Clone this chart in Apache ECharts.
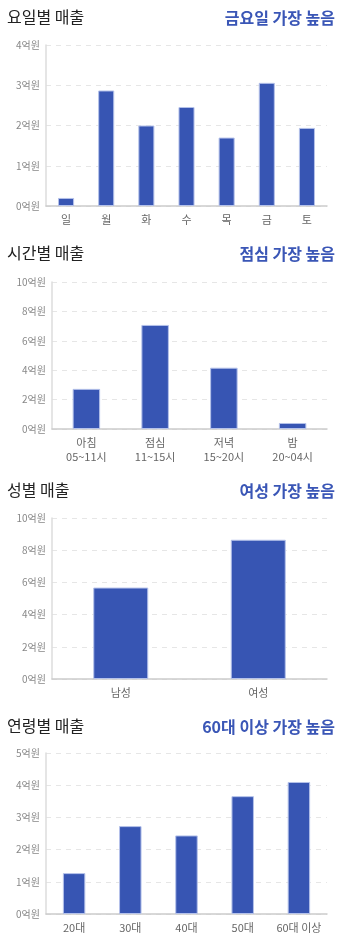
<!DOCTYPE html>
<html>
<head>
<meta charset="utf-8">
<script src="https://cdn.jsdelivr.net/npm/echarts@6/dist/echarts.min.js"></script>
<style>
  html, body { margin: 0; padding: 0; background: #fff; }
  #chart { width: 351px; height: 937px; }
</style>
</head>
<body>
<div id="chart"></div>
<script>
// 요일별
const dayLabels = ['일', '월', '화', '수', '목', '금', '토']
const dayValues = [0.2, 2.87, 2.0, 2.46, 1.7, 3.06, 1.94]
// 시간별
const timeLabels = ['아침\n05~11시', '점심\n11~15시', '저녁\n15~20시', '밤\n20~04시']
const timeValues = [2.73, 7.08, 4.17, 0.41]
// 성별
const genderLabels = ['남성', '여성']
const genderValues = [5.68, 8.65]
// 연령별
const ageLabels = ['20대', '30대', '40대', '50대', '60대 이상']
const ageValues = [1.27, 2.73, 2.44, 3.66, 4.1]

const titles = ['요일별 매출', '시간별 매출', '성별 매출', '연령별 매출']
const highlights = ['금요일 가장 높음', '점심 가장 높음', '여성 가장 높음', '60대 이상 가장 높음']

const FONT = '"Noto Sans CJK KR", "Noto Sans", sans-serif'
const BLUE = '#3755b3'

// 각 패널 배치
const panels = [
  { cats: dayLabels, vals: dayValues, max: 4, step: 1, left: 46, top: 45, height: 161, titleTop: 4 },
  { cats: timeLabels, vals: timeValues, max: 10, step: 2, left: 52, top: 282, height: 147, titleTop: 240 },
  { cats: genderLabels, vals: genderValues, max: 10, step: 2, left: 52, top: 518, height: 161, titleTop: 477 },
  { cats: ageLabels, vals: ageValues, max: 5, step: 1, left: 46, top: 753, height: 161, titleTop: 713 },
]

const option = {
  animation: false,
  textStyle: { fontFamily: FONT },
  title: [],
  grid: [],
  xAxis: [],
  yAxis: [],
  series: [],
}

panels.forEach((p, i) => {
  option.title.push({
    text: titles[i], left: 2, top: p.titleTop,
    textStyle: { fontSize: 16, fontWeight: 'normal', color: '#222', fontFamily: FONT },
  })
  option.title.push({
    text: highlights[i], right: 11, top: p.titleTop + 1,
    textStyle: { fontSize: 16, fontWeight: 'bold', color: '#3a56b6', fontFamily: FONT },
  })
  option.grid.push({ left: p.left, right: 24, top: p.top, height: p.height, containLabel: false })
  option.xAxis.push({
    type: 'category', gridIndex: i, data: p.cats,
    axisTick: { show: false },
    axisLine: { lineStyle: { color: '#ccc', width: 1.5 } },
    axisLabel: { color: '#666', fontSize: 11, margin: 7, lineHeight: 14, interval: 0, fontFamily: FONT },
  })
  option.yAxis.push({
    type: 'value', gridIndex: i, min: 0, max: p.max, interval: p.step,
    axisLine: { show: true, lineStyle: { color: '#ddd', width: 1.5 } },
    axisTick: { show: false },
    axisLabel: { color: '#888', fontSize: 10, margin: 6, formatter: '{value}억원', fontFamily: FONT },
    splitLine: { lineStyle: { color: '#e6e6e6', type: [5, 5] } },
  })
  option.series.push({
    type: 'bar', xAxisIndex: i, yAxisIndex: i, data: p.vals,
    barWidth: '40%',
    itemStyle: { color: BLUE, borderColor: '#b5c2ea', borderWidth: 1 },
  })
})

const chart = echarts.init(document.getElementById('chart'))
chart.setOption(option)
window.addEventListener('resize', () => chart.resize())
</script>
</body>
</html>
